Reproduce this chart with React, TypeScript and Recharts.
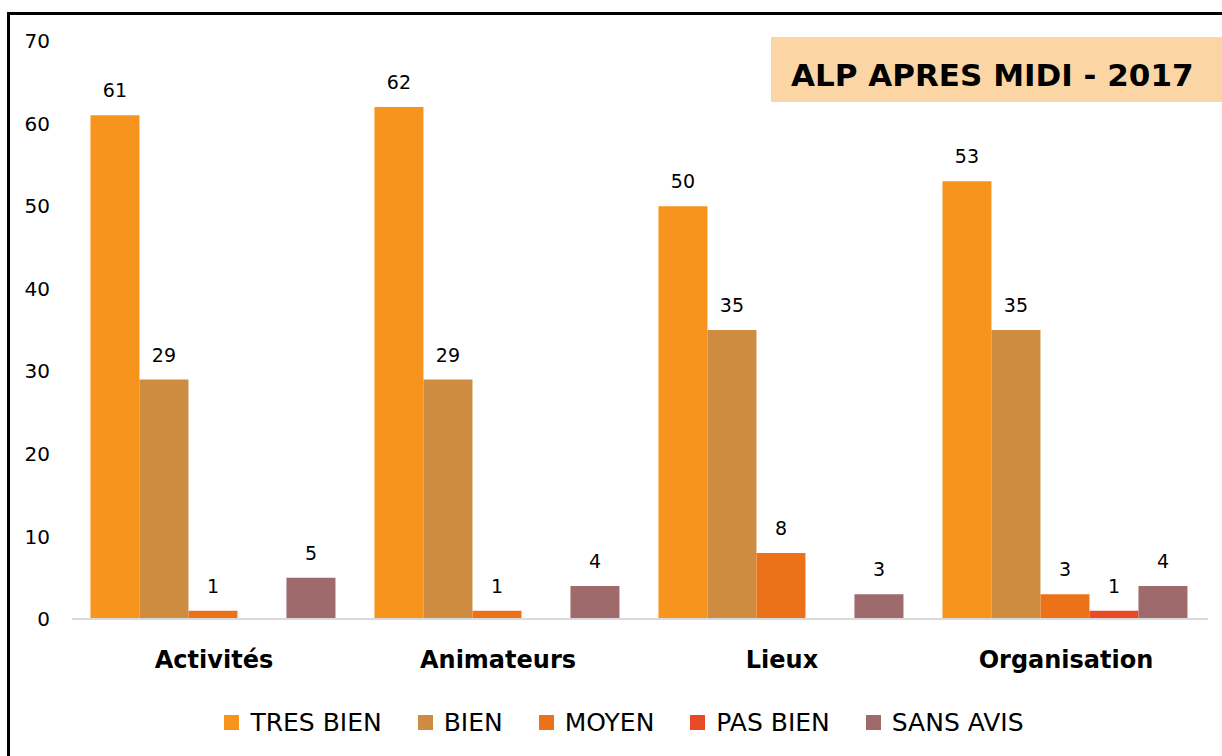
import { Bar, BarChart, LabelList, Legend, XAxis, YAxis } from "recharts";

const categories = ["Activités", "Animateurs", "Lieux", "Organisation"];
const tresBien = [61, 62, 50, 53];
const bien = [29, 29, 35, 35];
const moyen = [1, 1, 8, 3];
const pasBien = [0, 0, 0, 1];
const sansAvis = [5, 4, 3, 4];
const yTicks = [0, 10, 20, 30, 40, 50, 60, 70];

const SERIES = [
  { key: "tresBien", name: "TRES BIEN", color: "#F7941E", values: tresBien },
  { key: "bien", name: "BIEN", color: "#CD8C40", values: bien },
  { key: "moyen", name: "MOYEN", color: "#EC7219", values: moyen },
  { key: "pasBien", name: "PAS BIEN", color: "#E84A25", values: pasBien },
  { key: "sansAvis", name: "SANS AVIS", color: "#9E6A6B", values: sansAvis },
];

const data = categories.map((category, i) => {
  const row: Record<string, string | number> = { category };
  SERIES.forEach((s) => {
    row[s.key] = s.values[i];
  });
  return row;
});

const FONT = "'DejaVu Sans', sans-serif";

const hideZero = (v: unknown) => (v === 0 ? "" : String(v));

function LegendContent() {
  return (
    <div
      style={{
        height: 40,
        display: "flex",
        alignItems: "center",
        justifyContent: "center",
        paddingLeft: 40,
        fontFamily: FONT,
        fontSize: 25,
        color: "#000",
      }}
    >
      {SERIES.map((s, i) => (
        <div
          key={s.key}
          style={{
            display: "flex",
            alignItems: "center",
            marginLeft: i === 0 ? 0 : 36,
          }}
        >
          <span
            style={{
              width: 15,
              height: 15,
              background: s.color,
              display: "inline-block",
              marginRight: 11,
            }}
          />
          <span>{s.name}</span>
        </div>
      ))}
    </div>
  );
}

export default function App() {
  return (
    <div
      style={{
        position: "absolute",
        left: 0,
        top: 0,
        width: 1222,
        height: 756,
        overflow: "hidden",
        background: "#fff",
      }}
    >
      <div
        style={{
          position: "absolute",
          left: 7,
          top: 12,
          width: 1300,
          height: 800,
          borderTop: "3px solid #000",
          borderLeft: "3px solid #000",
        }}
      />
      <BarChart
        width={1222}
        height={756}
        data={data}
        margin={{ top: 41, right: 14, bottom: 14, left: 0 }}
        barCategoryGap="6.5%"
        barGap={0}
        style={{ position: "absolute", left: 0, top: 0 }}
      >
        <XAxis
          dataKey="category"
          height={83}
          axisLine={{ stroke: "#D9D9D9", strokeWidth: 2 }}
          tickLine={false}
          tickMargin={26}
          tick={{ fill: "#000", fontSize: 24, fontWeight: "bold", fontFamily: FONT }}
        />
        <YAxis
          width={72}
          domain={[0, 70]}
          ticks={yTicks}
          axisLine={false}
          tickLine={false}
          tickMargin={16}
          tick={{ fill: "#000", fontSize: 20, fontFamily: FONT }}
        />
        <Legend verticalAlign="bottom" height={40} content={<LegendContent />} />
        {SERIES.map((s) => (
          <Bar
            key={s.key}
            dataKey={s.key}
            name={s.name}
            fill={s.color}
            isAnimationActive={false}
          >
            <LabelList
              dataKey={s.key}
              position="top"
              offset={18}
              formatter={hideZero}
              style={{ fill: "#000", fontSize: 19, fontFamily: FONT }}
            />
          </Bar>
        ))}
      </BarChart>
      <div
        style={{
          position: "absolute",
          left: 771,
          top: 37,
          width: 451,
          height: 65,
          background: "#FCD5A5",
        }}
      />
      <div
        style={{
          position: "absolute",
          left: 791,
          top: 60,
          lineHeight: "31px",
          fontFamily: FONT,
          fontSize: 31,
          fontWeight: "bold",
          color: "#000",
          whiteSpace: "nowrap",
        }}
      >
        ALP APRES MIDI - 2017
      </div>
    </div>
  );
}
